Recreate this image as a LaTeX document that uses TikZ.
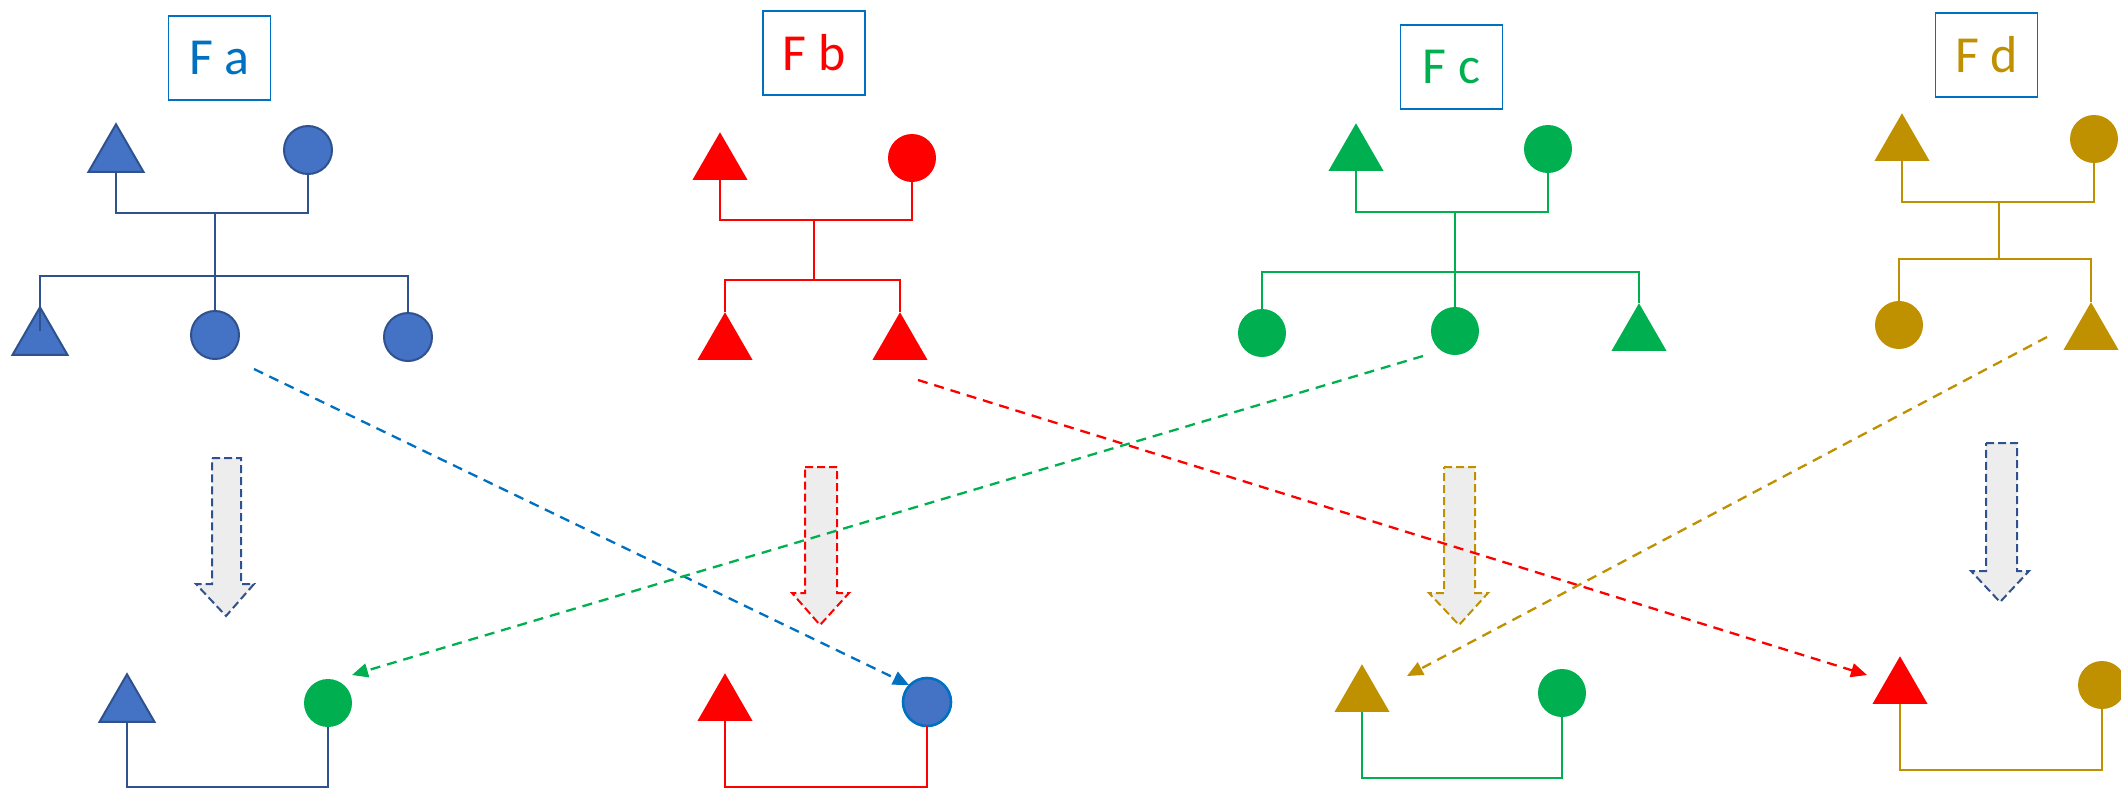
\documentclass[tikz,border=0pt]{standalone}
\usepackage{fontspec}
\setmainfont{Carlito}
\usetikzlibrary{shapes.geometric,arrows.meta}
\definecolor{bfill}{HTML}{4472C4}
\definecolor{bdark}{HTML}{2F528F}
\definecolor{bbright}{HTML}{0070C0}
\definecolor{rcol}{HTML}{FF0000}
\definecolor{gcol}{HTML}{00B050}
\definecolor{ocol}{HTML}{BF9000}
\definecolor{agray}{HTML}{EDEDED}
\tikzset{
  circ/.style={circle,inner sep=0pt,outer sep=0pt,minimum size=24pt},
  tri/.style={regular polygon,regular polygon sides=3,inner sep=0pt,outer sep=0pt,minimum size=31.75pt},
  lbl/.style={draw=bbright,line width=0.9pt,minimum width=51pt,minimum height=42pt,inner sep=0pt,font=\fontsize{26}{30}\selectfont},
  link/.style={line width=1.15pt},
  dlink/.style={line width=1.15pt,dash pattern=on 5pt off 3.5pt,-{Triangle[length=8pt,width=7pt]}},
  blockarr/.style={fill=agray,line width=1pt,dash pattern=on 4pt off 2pt},
}
\begin{document}
\begin{tikzpicture}[x=0.5pt,y=-0.5pt]
\useasboundingbox (0,0) rectangle (2121,789);
% labels
\node[lbl,text=bbright] (la) at (219.5,58) {F a};
\node[lbl,text=rcol] (lb) at (814,53) {F b};
\node[lbl,text=gcol] (lc) at (1451.5,67) {F c};
\node[lbl,text=ocol] (ld) at (1986.5,55) {F d};
% block arrows
\draw[blockarr,draw=bdark] (212,458) -- (241,458) -- (241,584) -- (254,584) -- (226,616) -- (196,584) -- (212,584) -- cycle;
\draw[blockarr,draw=rcol] (805,467) -- (837,467) -- (837,593) -- (849,593) -- (820,625) -- (792,593) -- (805,593) -- cycle;
\draw[blockarr,draw=ocol] (1444,467) -- (1475,467) -- (1475,593) -- (1488,593) -- (1459,625) -- (1429,593) -- (1444,593) -- cycle;
\draw[blockarr,draw=bdark] (1986,443) -- (2017,443) -- (2017,571) -- (2029,571) -- (2000,602) -- (1971,571) -- (1986,571) -- cycle;
% family a
\node[tri,fill=bfill,draw=bdark,line width=1pt] (aT) at (116,156) {};
\node[circ,fill=bfill,draw=bdark,line width=1pt] (aC) at (308,150) {};
\node[tri,fill=bfill,draw=bdark,line width=1pt] (aL) at (40,339) {};
\node[circ,fill=bfill,draw=bdark,line width=1pt] (aM) at (215,335) {};
\node[circ,fill=bfill,draw=bdark,line width=1pt] (aR) at (408,337) {};
\coordinate (aJ1) at (215,213);
\coordinate (aJ2) at (215,276);
\draw[link,bdark] (aT.south) |- (aJ1) -| (aC.south);
\draw[link,bdark] (aJ1) -- (aJ2);
\draw[link,bdark] ([yshift=4pt]aL.center) |- (aJ2) -| (aR.north);
\draw[link,bdark] (aJ2) -- (aM.north);
% family b
\node[tri,fill=rcol] (bT) at (720,164) {};
\node[circ,fill=rcol] (bC) at (912,158) {};
\node[tri,fill=rcol] (bL) at (725,344) {};
\node[tri,fill=rcol] (bR) at (900,344) {};
\coordinate (bJ1) at (814,220);
\coordinate (bJ2) at (814,280);
\draw[link,rcol] (bT.south) |- (bJ1) -| (bC.south);
\draw[link,rcol] (bJ1) -- (bJ2);
\draw[link,rcol] (bL.north) |- (bJ2) -| (bR.north);
% family c
\node[tri,fill=gcol] (cT) at (1356,155) {};
\node[circ,fill=gcol] (cC) at (1548,149) {};
\node[circ,fill=gcol] (cL) at (1262,333) {};
\node[circ,fill=gcol] (cM) at (1455,331) {};
\node[tri,fill=gcol] (cR) at (1639,335) {};
\coordinate (cJ1) at (1455,212);
\coordinate (cJ2) at (1455,272);
\draw[link,gcol] (cT.south) |- (cJ1) -| (cC.south);
\draw[link,gcol] (cJ1) -- (cJ2);
\draw[link,gcol] (cL.north) |- (cJ2) -| (cR.north);
\draw[link,gcol] (cJ2) -- (cM.north);
% family d
\node[tri,fill=ocol] (dT) at (1902,145) {};
\node[circ,fill=ocol] (dC) at (2094,139) {};
\node[circ,fill=ocol] (dL) at (1899,325) {};
\node[tri,fill=ocol] (dR) at (2091,334) {};
\coordinate (dJ1) at (1999,202);
\coordinate (dJ2) at (1999,259);
\draw[link,ocol] (dT.south) |- (dJ1) -| (dC.south);
\draw[link,ocol] (dJ1) -- (dJ2);
\draw[link,ocol] (dL.north) |- (dJ2) -| (dR.north);
% bottom pairs
\node[tri,fill=bfill,draw=bdark,line width=1pt] (eT) at (127,706) {};
\node[circ,fill=gcol] (eC) at (328,703) {};
\draw[link,bdark] (eT.south) -- ++(0,65) -| (eC.south);
\node[tri,fill=rcol] (fT) at (725,705) {};
\node[circ,fill=bfill,draw=bbright,line width=1.3pt] (fC) at (927,702) {};
\draw[link,rcol] (fT.south) -- ++(0,66) -| (fC.south);
\node[tri,fill=ocol] (gT) at (1362,696) {};
\node[circ,fill=gcol] (gC) at (1562,693) {};
\draw[link,gcol] (gT.south) -- ++(0,66) -| (gC.south);
\node[tri,fill=rcol] (hT) at (1900,688) {};
\node[circ,fill=ocol] (hC) at (2102,685) {};
\draw[link,ocol] (hT.south) -- ++(0,66) -| (hC.south);
% dashed crossings
\draw[dlink,bbright] ([shift={(39,34)}]aM.center) -- ([shift={(-18,-17)}]fC.center);
\draw[dlink,rcol] ([shift={(18,36)}]bR.center) -- ([shift={(-33,-13)}]hT.center);
\draw[dlink,gcol] ([shift={(-32,25)}]cM.center) -- ([shift={(24,-28)}]eC.center);
\draw[dlink,ocol] ([shift={(-44,3)}]dR.center) -- ([shift={(45,-20)}]gT.center);
\end{tikzpicture}
\end{document}
